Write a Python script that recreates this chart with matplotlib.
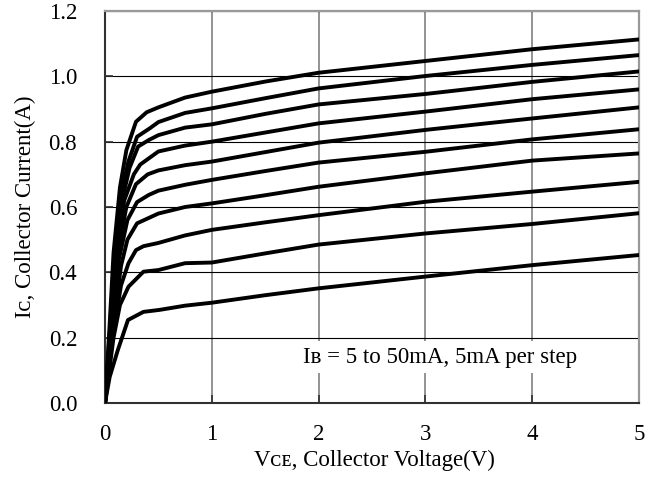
import numpy as np
import matplotlib.pyplot as plt

plt.rcParams['font.family'] = ['Liberation Serif', 'DejaVu Serif']

# I_B = 5 ... 50 mA, top curve is 50 mA
ib_steps = [50, 45, 40, 35, 30, 25, 20, 15, 10, 5]

# knee region, read per curve
vce_head = [
    [0, 0.04, 0.08, 0.14, 0.20, 0.29, 0.39, 0.50],
    [0, 0.045, 0.09, 0.15, 0.22, 0.30, 0.42, 0.50],
    [0, 0.05, 0.10, 0.16, 0.23, 0.31, 0.41, 0.50],
    [0, 0.05, 0.11, 0.18, 0.27, 0.33, 0.50],
    [0, 0.055, 0.12, 0.20, 0.29, 0.40, 0.50],
    [0, 0.06, 0.13, 0.21, 0.30, 0.41, 0.50],
    [0, 0.065, 0.15, 0.21, 0.30, 0.40, 0.50],
    [0, 0.07, 0.15, 0.22, 0.29, 0.36, 0.50],
    [0, 0.08, 0.14, 0.22, 0.36, 0.50],
    [0, 0.044, 0.12, 0.215, 0.36, 0.51],
]
ic_head = [
    [0, 0.22, 0.46, 0.66, 0.774, 0.861, 0.890, 0.905],
    [0, 0.22, 0.46, 0.64, 0.740, 0.815, 0.841, 0.860],
    [0, 0.22, 0.46, 0.62, 0.720, 0.785, 0.805, 0.820],
    [0, 0.21, 0.46, 0.62, 0.700, 0.730, 0.770],
    [0, 0.21, 0.46, 0.60, 0.670, 0.700, 0.712],
    [0, 0.21, 0.44, 0.56, 0.615, 0.637, 0.650],
    [0, 0.20, 0.42, 0.50, 0.550, 0.565, 0.580],
    [0, 0.20, 0.36, 0.428, 0.468, 0.480, 0.490],
    [0, 0.20, 0.30, 0.356, 0.402, 0.407],
    [0, 0.08, 0.162, 0.254, 0.279, 0.285],
]

# beyond the knee, common VCE points
vce_tail = [0.75, 1.0, 1.5, 2, 3, 4, 5]
ic_tail = [
    [0.935, 0.953, 0.984, 1.011, 1.047, 1.083, 1.113],
    [0.888, 0.902, 0.933, 0.963, 1.001, 1.035, 1.065],
    [0.843, 0.853, 0.885, 0.914, 0.946, 0.983, 1.015],
    [0.788, 0.800, 0.828, 0.856, 0.892, 0.930, 0.960],
    [0.728, 0.739, 0.768, 0.797, 0.836, 0.871, 0.905],
    [0.668, 0.683, 0.710, 0.736, 0.769, 0.807, 0.838],
    [0.600, 0.611, 0.636, 0.662, 0.703, 0.742, 0.764],
    [0.513, 0.530, 0.553, 0.575, 0.616, 0.647, 0.677],
    [0.428, 0.430, 0.458, 0.485, 0.519, 0.548, 0.581],
    [0.298, 0.307, 0.330, 0.351, 0.387, 0.422, 0.453],
]

x_ticks = [0, 1, 2, 3, 4, 5]
y_ticks = [0.0, 0.2, 0.4, 0.6, 0.8, 1.0, 1.2]

fig = plt.figure(figsize=(6.54, 4.82), dpi=100)
ax = fig.add_axes([105 / 654, 1 - 403 / 482, 534 / 654, 392 / 482])

for i in range(len(ib_steps)):
    v = vce_head[i] + vce_tail
    c = ic_head[i] + ic_tail[i]
    ax.plot(v, c, color='black', lw=2.8, solid_joinstyle='round', zorder=3)

ax.set_xlim(0, 5)
ax.set_ylim(0, 1.2)
ax.set_xticks(x_ticks)
ax.set_yticks(y_ticks)
ax.set_xticklabels([str(t) for t in x_ticks])
ax.set_yticklabels(['%.1f' % t for t in y_ticks])
ax.tick_params(direction='in', length=6, width=1.2, color='#303030', labelsize=16.5)
ax.tick_params(axis='x', pad=15)
ax.tick_params(axis='y', pad=20)

ax.yaxis.grid(True, color='black', lw=0.8)
ax.xaxis.grid(True, color='#808080', lw=1.2)
ax.set_axisbelow(True)

for s in ['left', 'bottom']:
    ax.spines[s].set_color('#303030')
    ax.spines[s].set_linewidth(1.5)
for s in ['top', 'right']:
    ax.spines[s].set_color('#999999')
    ax.spines[s].set_linewidth(1.6)

ax.text(1.85, 0.14, 'I\u0299 = 5 to 50mA, 5mA per step', fontsize=16.5,
        va='center', ha='left', zorder=4,
        bbox=dict(facecolor='white', edgecolor='none', pad=4))

fig.text(25 / 654, 1 - 207 / 482, 'I\u1d04, Collector Current(A)', rotation=90,
         ha='center', va='center', fontsize=16.5)
fig.text(374 / 654, 1 - 460 / 482, 'V\u1d04\u1d07, Collector Voltage(V)',
         ha='center', va='center', fontsize=16.5)

plt.savefig('out.png', dpi=100)
